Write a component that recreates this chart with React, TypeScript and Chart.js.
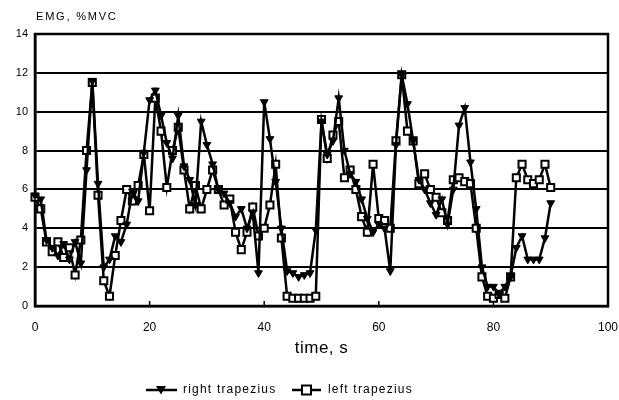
import React, { useEffect, useRef } from "react";
import { Chart, registerables } from "chart.js";

Chart.register(...registerables);

// sampling grid, seconds
const TIME_S: number[] = Array.from({ length: 91 }, (_, i) => i);

const RIGHT_TRAPEZIUS: number[] = [
  5.7, 5.5, 3.4, 3.0, 2.6, 3.2, 2.4, 3.3, 2.2, 7.0,
  11.6, 6.3, 2.0, 2.4, 3.6, 3.3, 4.2, 5.9, 5.4, 7.9,
  10.6, 11.1, 9.8, 8.4, 7.6, 9.8, 7.2, 6.5, 5.2, 9.5,
  8.3, 7.3, 6.0, 5.8, 5.3, 4.6, 5.0, 4.0, 4.8, 1.7,
  10.5, 8.6, 6.4, 4.0, 1.8, 1.7, 1.5, 1.6, 1.7, 3.9,
  9.5, 7.8, 8.5, 10.7, 8.0, 6.8, 6.4, 5.5, 4.5, 3.8,
  4.2, 4.0, 1.8, 8.3, 11.9, 10.4, 8.5, 6.5, 6.0, 5.3,
  4.7, 5.5, 4.2, 6.0, 9.3, 10.2, 7.4, 5.0, 2.0, 1.0,
  1.0, 0.6, 1.0, 1.5, 3.0, 3.6, 2.4, 2.4, 2.4, 3.5,
  5.3,
];

const LEFT_TRAPEZIUS: number[] = [
  5.6, 5.0, 3.3, 2.8, 3.3, 2.5, 3.0, 1.6, 3.4, 8.0,
  11.5, 5.7, 1.3, 0.5, 2.6, 4.4, 6.0, 5.4, 6.2, 7.8,
  4.9, 10.7, 9.0, 6.1, 8.0, 9.2, 7.0, 5.0, 6.2, 5.0,
  6.0, 7.0, 6.0, 5.2, 5.5, 3.8, 2.9, 3.8, 5.1, 3.6,
  4.0, 5.2, 7.3, 3.5, 0.5, 0.4, 0.4, 0.4, 0.4, 0.5,
  9.6, 7.6, 8.8, 9.5, 6.6, 7.0, 6.0, 4.6, 3.8, 7.3,
  4.5, 4.4, 4.0, 8.5, 11.9, 9.0, 8.5, 6.3, 6.8, 6.0,
  5.6, 4.8, 4.4, 6.5, 6.6, 6.4, 6.3, 4.0, 1.5, 0.5,
  0.4, 0.6, 0.4, 1.5, 6.6, 7.3, 6.5, 6.3, 6.5, 7.3,
  6.1,
];

const X_TICKS: number[] = [0, 20, 40, 60, 80, 100];
const Y_TICKS: number[] = [0, 2, 4, 6, 8, 10, 12, 14];
const Y_LABEL = "EMG, %MVC";
const X_LABEL = "time, s";
const SERIES_NAMES: string[] = ["right trapezius", "left trapezius"];

const FONT = '"Liberation Sans", Arial, sans-serif';

function drawTriangleDown(ctx: CanvasRenderingContext2D, x: number, y: number) {
  ctx.beginPath();
  ctx.moveTo(x - 5, y - 4);
  ctx.lineTo(x + 5, y - 4);
  ctx.lineTo(x, y + 4.5);
  ctx.closePath();
  ctx.fill();
}

const decorPlugin = {
  id: "decor",
  beforeDatasetsDraw(chart: any) {
    const { ctx, chartArea: a, scales } = chart;
    ctx.save();
    ctx.strokeStyle = "#000";
    ctx.lineWidth = 2.5;
    ctx.strokeRect(a.left, a.top, a.right - a.left, a.bottom - a.top);
    ctx.lineWidth = 1.5;
    X_TICKS.slice(1, -1).forEach((v) => {
      const x = scales.x.getPixelForValue(v);
      ctx.beginPath();
      ctx.moveTo(x, a.bottom);
      ctx.lineTo(x, a.bottom - 5);
      ctx.stroke();
    });
    ctx.restore();
  },
  afterDraw(chart: any) {
    const { ctx, chartArea: a } = chart;
    ctx.save();
    ctx.fillStyle = "#000";
    ctx.strokeStyle = "#000";
    ctx.textBaseline = "middle";

    ctx.font = `11px ${FONT}`;
    (ctx as any).letterSpacing = "1.8px";
    ctx.textAlign = "left";
    ctx.fillText(Y_LABEL, 36, 17);

    ctx.font = `17px ${FONT}`;
    (ctx as any).letterSpacing = "0.5px";
    ctx.textAlign = "center";
    ctx.fillText(X_LABEL, (a.left + a.right) / 2, 348);

    // legend
    const ly = 390;
    ctx.font = `12px ${FONT}`;
    (ctx as any).letterSpacing = "1.2px";
    ctx.textAlign = "left";
    ctx.lineWidth = 2.5;

    // right trapezius
    ctx.beginPath();
    ctx.moveTo(146, ly);
    ctx.lineTo(177, ly);
    ctx.stroke();
    drawTriangleDown(ctx, 161, ly);
    ctx.fillText(SERIES_NAMES[0], 183, ly);

    // left trapezius
    ctx.beginPath();
    ctx.moveTo(292, ly);
    ctx.lineTo(321, ly);
    ctx.stroke();
    ctx.fillStyle = "#fff";
    ctx.fillRect(302, ly - 4.5, 9, 9);
    ctx.lineWidth = 2;
    ctx.strokeRect(302, ly - 4.5, 9, 9);
    ctx.fillStyle = "#000";
    ctx.fillText(SERIES_NAMES[1], 328, ly);
    ctx.restore();
  },
};

export default function App() {
  const canvasRef = useRef<HTMLCanvasElement | null>(null);

  useEffect(() => {
    document.body.style.margin = "0";
    const canvas = canvasRef.current;
    if (!canvas) return;

    const chart = new Chart(canvas, {
      type: "line",
      data: {
        datasets: [
          {
            label: SERIES_NAMES[0],
            data: TIME_S.map((t, i) => ({ x: t, y: RIGHT_TRAPEZIUS[i] })),
            borderColor: "#000",
            backgroundColor: "#000",
            borderWidth: 2.5,
            pointStyle: "triangle",
            rotation: 180,
            pointRadius: 4.5,
            pointBackgroundColor: "#000",
            pointBorderColor: "#000",
            pointBorderWidth: 1,
            tension: 0,
            clip: false as any,
          },
          {
            label: SERIES_NAMES[1],
            data: TIME_S.map((t, i) => ({ x: t, y: LEFT_TRAPEZIUS[i] })),
            borderColor: "#000",
            backgroundColor: "#fff",
            borderWidth: 2.5,
            pointStyle: "rect",
            pointRadius: 5,
            pointBackgroundColor: "#fff",
            pointBorderColor: "#000",
            pointBorderWidth: 2,
            tension: 0,
            clip: false as any,
          },
        ],
      },
      options: {
        responsive: false,
        animation: false,
        events: [],
        layout: { padding: { top: 34, right: 11, left: 0, bottom: 0 } },
        plugins: {
          legend: { display: false },
          tooltip: { enabled: false },
          title: { display: false },
        },
        scales: {
          x: {
            type: "linear",
            min: 0,
            max: 100,
            afterFit: (s: any) => {
              s.height = 94;
              s.paddingLeft = 0;
              s.paddingRight = 0;
            },
            afterBuildTicks: (s: any) => {
              s.ticks = X_TICKS.map((v) => ({ value: v }));
            },
            grid: { display: false, drawTicks: false },
            border: { display: true, color: "#000", width: 2.5 },
            ticks: {
              padding: 14,
              color: "#000",
              font: { family: FONT, size: 12 },
              maxRotation: 0,
              autoSkip: false,
            },
          },
          y: {
            type: "linear",
            min: 0,
            max: 14,
            afterFit: (s: any) => {
              s.width = 35;
              s.paddingTop = 0;
              s.paddingBottom = 0;
            },
            afterBuildTicks: (s: any) => {
              s.ticks = Y_TICKS.map((v) => ({ value: v }));
            },
            grid: { color: "#000", lineWidth: 2, drawTicks: false },
            border: { display: true, color: "#000", width: 2.5 },
            ticks: {
              padding: 7,
              color: "#000",
              font: { family: FONT, size: 11 },
            },
          },
        },
      },
      plugins: [decorPlugin],
    });

    return () => {
      chart.destroy();
    };
  }, []);

  return (
    <div style={{ width: 619, height: 400, background: "#fff" }}>
      <canvas ref={canvasRef} width={619} height={400} />
    </div>
  );
}
